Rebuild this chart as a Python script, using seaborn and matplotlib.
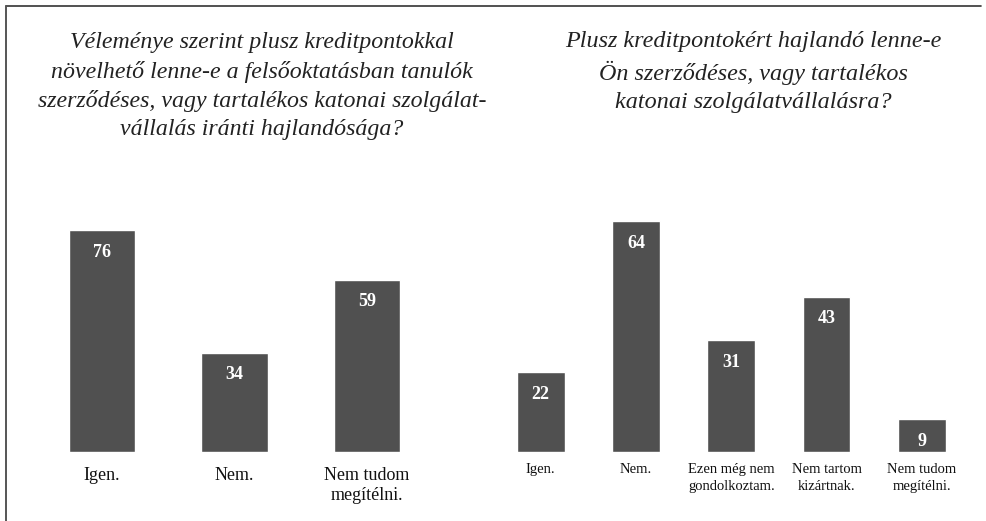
import matplotlib
matplotlib.use("Agg")
import matplotlib.pyplot as plt
import seaborn as sns
import pandas as pd
from matplotlib.lines import Line2D

sns.set_theme(style="white")
plt.rcParams['font.family'] = ['Liberation Serif', 'DejaVu Serif']

# ---- data ----
left_title = ("Véleménye szerint plusz kreditpontokkal\n"
              "növelhető lenne-e a felsőoktatásban tanulók\n"
              "szerződéses, vagy tartalékos katonai szolgálat-\n"
              "vállalás iránti hajlandósága?")
left_cats = ["Igen.", "Nem.", "Nem tudom\nmegítélni."]
left_vals = [76, 34, 59]

right_title = ("Plusz kreditpontokért hajlandó lenne-e\n"
               "Ön szerződéses, vagy tartalékos\n"
               "katonai szolgálatvállalásra?")
right_cats = ["Igen.", "Nem.", "Ezen még nem\ngondolkoztam.",
              "Nem tartom\nkizártnak.", "Nem tudom\nmegítélni."]
right_vals = [22, 64, 31, 43, 9]

BAR = "#505050"
W, H = 986, 521
fig = plt.figure(figsize=(W / 100, H / 100), dpi=100)
fig.patch.set_facecolor("white")

base = 1 - 451.7 / H
top = 1 - 200 / H

# left axes
lx0 = (102 - 0.6 * 132.5) / W
lw = 3.2 * 132.5 / W
axL = fig.add_axes([lx0, base, lw, top - base])
dfL = pd.DataFrame({"cat": left_cats, "val": left_vals})
sns.barplot(data=dfL, x="cat", y="val", color=BAR, width=0.5, ax=axL,
            saturation=1)
axL.set_xlim(-0.6, 2.6)
axL.set_ylim(0, 251.7 / 2.917)

# right axes
rx0 = (540.7 - 0.5 * 95.3) / W
rw = 5 * 95.3 / W
axR = fig.add_axes([rx0, base, rw, top - base])
dfR = pd.DataFrame({"cat": right_cats, "val": right_vals})
sns.barplot(data=dfR, x="cat", y="val", color=BAR, width=0.5, ax=axR,
            saturation=1)
axR.set_xlim(-0.5, 4.5)
axR.set_ylim(0, 251.7 / 3.6)

for ax, fs, pad, ls in ((axL, 13, 11, 1.2), (axR, 10.5, 8, 1.45)):
    ax.set_xlabel("")
    ax.set_ylabel("")
    ax.set_yticks([])
    for s in ax.spines.values():
        s.set_visible(False)
    ax.tick_params(axis="x", length=0, pad=pad, labelsize=fs, colors="#111111")
    ax.set_facecolor("none")
    for lab in ax.get_xticklabels():
        lab.set_linespacing(ls)
    for c in ax.containers:
        ax.bar_label(c, labels=[f"{int(v)}" for v in c.datavalues],
                     padding=-22, color="white", fontweight="bold",
                     fontsize=13)

fig.text(262 / W, 1 - 86 / H, left_title, ha="center", va="center",
         fontsize=17.2, style="italic", color="#222222", linespacing=1.43)
fig.text(753 / W, 1 - 72 / H, right_title, ha="center", va="center",
         fontsize=17.4, style="italic", color="#222222", linespacing=1.43)

# frame lines (top and left)
fig.add_artist(Line2D([6 / W, 981 / W], [1 - 6 / H, 1 - 6 / H],
                      transform=fig.transFigure, color="#333333", lw=1.2))
fig.add_artist(Line2D([6 / W, 6 / W], [1 - 6 / H, 0],
                      transform=fig.transFigure, color="#555555", lw=1.4))

fig.savefig("out.png", dpi=100, facecolor="white")
